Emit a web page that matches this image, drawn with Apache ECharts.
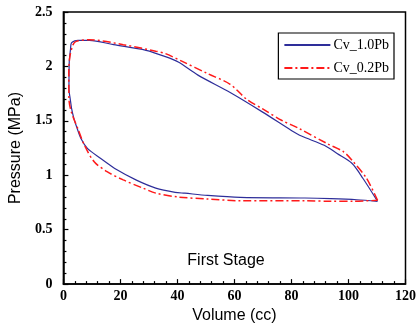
<!DOCTYPE html>
<html>
<head>
<meta charset="utf-8">
<script src="https://cdn.jsdelivr.net/npm/echarts@6/dist/echarts.min.js"></script>
<style>
  html, body { margin: 0; padding: 0; background: #fff; }
  #main { width: 419px; height: 329px; }
</style>
</head>
<body>
<div id="main"></div>
<script>
// Cv_1.0Pb loop: volume (cc) / pressure (MPa)
var blueV = [110.2, 105.1, 101.2, 96.0, 91.5, 83.5, 80.1, 69.9, 58.5, 47.2, 40.3, 35.8, 29, 17.6, 9.1, 5.1, 4.0, 2.8, 2.5, 2.05, 1.95, 2.4, 2.9, 3.7, 4.5, 6.2, 8.5, 13.1, 18.8, 25.6, 32.4, 39.2, 42.6, 50.6, 62, 84.7, 93.8, 102.9, 110.2];
var blueP = [0.76, 0.97, 1.11, 1.2, 1.275, 1.36, 1.41, 1.58, 1.76, 1.92, 2.04, 2.09, 2.148, 2.2, 2.24, 2.24, 2.235, 2.215, 2.16, 2.04, 1.79, 1.7, 1.61, 1.52, 1.455, 1.335, 1.245, 1.155, 1.05, 0.955, 0.882, 0.843, 0.835, 0.815, 0.797, 0.791, 0.785, 0.775, 0.76];

// Cv_0.2Pb loop
var redV = [110.2, 106.3, 101.7, 98.3, 92.6, 82.4, 76.7, 69.9, 64.2, 58.5, 50.6, 41.5, 35.8, 32.4, 21, 9, 4.5, 3.4, 2.3, 1.9, 1.95, 2.8, 5.1, 7.4, 10.8, 15.3, 21, 27.9, 32.4, 40.3, 50.6, 62, 84.7, 93.8, 101.7, 110.2];
var redP = [0.77, 0.973, 1.124, 1.215, 1.29, 1.433, 1.503, 1.609, 1.7, 1.836, 1.934, 2.048, 2.118, 2.14, 2.2, 2.245, 2.23, 2.2, 2.094, 1.95, 1.7, 1.58, 1.427, 1.275, 1.124, 1.033, 0.957, 0.882, 0.836, 0.8, 0.782, 0.766, 0.766, 0.761, 0.761, 0.77];

var seriesNames = ['Cv_1.0Pb', 'Cv_0.2Pb'];

function pairs(xs, ys) {
  return xs.map(function (x, i) { return [x, ys[i]]; });
}

var chart = echarts.init(document.getElementById('main'));

var tickFont = { fontFamily: 'Liberation Serif', fontWeight: 'bold', fontSize: 14, color: '#000' };

var option = {
  animation: false,
  grid: {
    left: 55, right: 12, top: 12, bottom: 42,
    show: true, borderColor: '#000', borderWidth: 1.5, backgroundColor: 'transparent'
  },
  legend: {
    orient: 'vertical',
    right: 25, top: 33,
    padding: [5, 5, 4, 5],
    itemGap: 9,
    itemWidth: 46, itemHeight: 14,
    itemStyle: { opacity: 0 },
    borderColor: '#000', borderWidth: 1.2,
    textStyle: { fontFamily: 'Liberation Serif', fontSize: 14, color: '#000', padding: [0, 0, 0, -2] },
    data: seriesNames
  },
  graphic: [{
    type: 'text',
    x: 226, y: 261,
    style: {
      text: 'First Stage',
      fontFamily: 'Liberation Sans', fontSize: 16, fill: '#000',
      align: 'center', verticalAlign: 'middle'
    }
  }],
  xAxis: {
    type: 'value',
    min: 0, max: 120, interval: 20,
    name: 'Volume (cc)', nameLocation: 'middle', nameGap: 20,
    nameTextStyle: { fontFamily: 'Liberation Sans', fontSize: 16, color: '#000' },
    axisLine: { lineStyle: { color: '#000', width: 1.5 } },
    axisTick: { inside: true, length: 5, lineStyle: { color: '#000', width: 1.2 } },
    minorTick: { show: true, splitNumber: 5, length: 3, lineStyle: { color: '#000', width: 1.2 } },
    axisLabel: Object.assign({ margin: 5 }, tickFont),
    splitLine: { show: false }
  },
  yAxis: {
    type: 'value',
    min: 0, max: 2.5, interval: 0.5,
    name: 'Pressure (MPa)', nameLocation: 'middle', nameGap: 37,
    nameTextStyle: { fontFamily: 'Liberation Sans', fontSize: 16, color: '#000' },
    axisLine: { lineStyle: { color: '#000', width: 1.5 } },
    axisTick: { inside: true, length: 5, lineStyle: { color: '#000', width: 1.2 } },
    minorTick: { show: true, splitNumber: 5, length: 3, lineStyle: { color: '#000', width: 1.2 } },
    axisLabel: Object.assign({ margin: 11 }, tickFont),
    splitLine: { show: false }
  },
  series: [{
    name: seriesNames[0],
    type: 'line',
    symbol: 'none',
    smooth: 0.3,
    lineStyle: { color: '#2e2e9a', width: 1.2 },
    itemStyle: { color: '#2e2e9a' },
    data: pairs(blueV, blueP)
  }, {
    name: seriesNames[1],
    type: 'line',
    symbol: 'none',
    smooth: 0.3,
    lineStyle: { color: '#ff1a1a', width: 1.5, type: [8, 3, 2, 3] },
    itemStyle: { color: '#ff1a1a' },
    data: pairs(redV, redP)
  }]
};

chart.setOption(option);
</script>
</body>
</html>
